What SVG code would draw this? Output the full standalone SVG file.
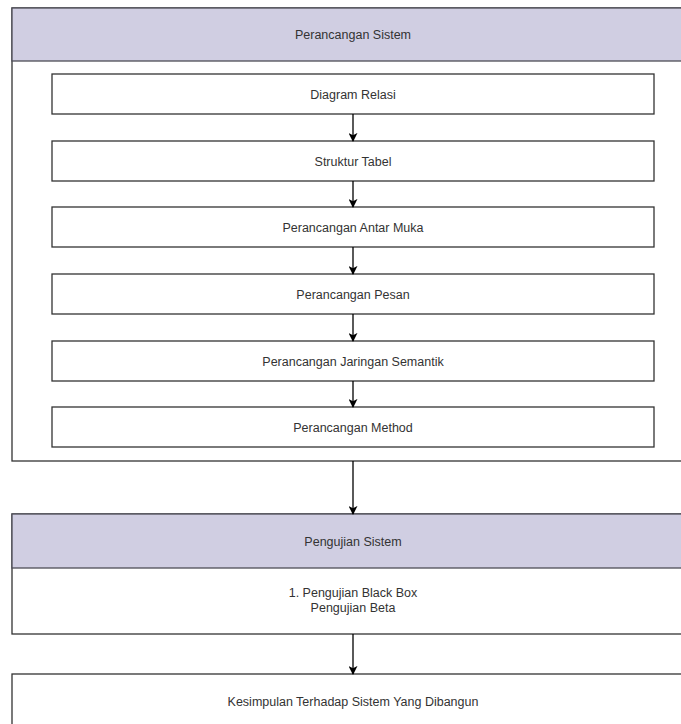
<svg xmlns="http://www.w3.org/2000/svg" width="681" height="724" viewBox="0 0 681 724">
<style>
.box{fill:#ffffff;stroke:#333333;stroke-width:1.3}
.hdr{fill:#d0cee2;stroke:#4d4d57;stroke-width:1.3}
.t{font-family:"Liberation Sans",Arial,sans-serif;font-size:12.5px;fill:#333333;text-anchor:middle;dominant-baseline:central}
.c{stroke:#000000;stroke-width:1.3;fill:none;marker-end:url(#ah)}
</style>
<defs>
<marker id="ah" viewBox="0 0 10 10" refX="9" refY="5" markerWidth="9" markerHeight="9" markerUnits="userSpaceOnUse" orient="auto">
<path d="M0,0 L10,5 L0,10 L2.5,5 Z" fill="#000000"/>
</marker>
</defs>
<rect x="0" y="0" width="681" height="724" fill="#ffffff"/>
<g id="perancangan-sistem">
<rect class="box" x="12" y="8" width="684" height="453"/>
<rect class="hdr" x="12" y="8" width="684" height="53"/>
<text class="t" x="353" y="35">Perancangan Sistem</text>
</g>
<g id="diagram-relasi">
<rect class="box" x="52" y="74" width="602" height="40"/>
<text class="t" x="353" y="95">Diagram Relasi</text>
</g>
<g id="struktur-tabel">
<rect class="box" x="52" y="141" width="602" height="40"/>
<text class="t" x="353" y="162">Struktur Tabel</text>
</g>
<g id="antar-muka">
<rect class="box" x="52" y="207" width="602" height="40"/>
<text class="t" x="353" y="228">Perancangan Antar Muka</text>
</g>
<g id="pesan">
<rect class="box" x="52" y="274" width="602" height="40"/>
<text class="t" x="353" y="295">Perancangan Pesan</text>
</g>
<g id="jaringan-semantik">
<rect class="box" x="52" y="341" width="602" height="40"/>
<text class="t" x="353" y="362">Perancangan Jaringan Semantik</text>
</g>
<g id="method">
<rect class="box" x="52" y="407" width="602" height="40"/>
<text class="t" x="353" y="428">Perancangan Method</text>
</g>
<g id="pengujian-sistem">
<rect class="box" x="12" y="514" width="684" height="120"/>
<rect class="hdr" x="12" y="514" width="684" height="54"/>
<text class="t" x="353" y="542">Pengujian Sistem</text>
<text class="t" x="353" y="593">1. Pengujian Black Box</text>
<text class="t" x="353" y="608">Pengujian Beta</text>
</g>
<g id="kesimpulan">
<rect class="box" x="12" y="674" width="684" height="60"/>
<text class="t" x="353" y="702">Kesimpulan Terhadap Sistem Yang Dibangun</text>
</g>
<g id="connectors">
<line class="c" x1="353" y1="114" x2="353" y2="141"/>
<line class="c" x1="353" y1="181" x2="353" y2="207"/>
<line class="c" x1="353" y1="247" x2="353" y2="274"/>
<line class="c" x1="353" y1="314" x2="353" y2="341"/>
<line class="c" x1="353" y1="381" x2="353" y2="407"/>
<line class="c" x1="353" y1="461" x2="353" y2="514"/>
<line class="c" x1="353" y1="634" x2="353" y2="674"/>
</g>
</svg>
